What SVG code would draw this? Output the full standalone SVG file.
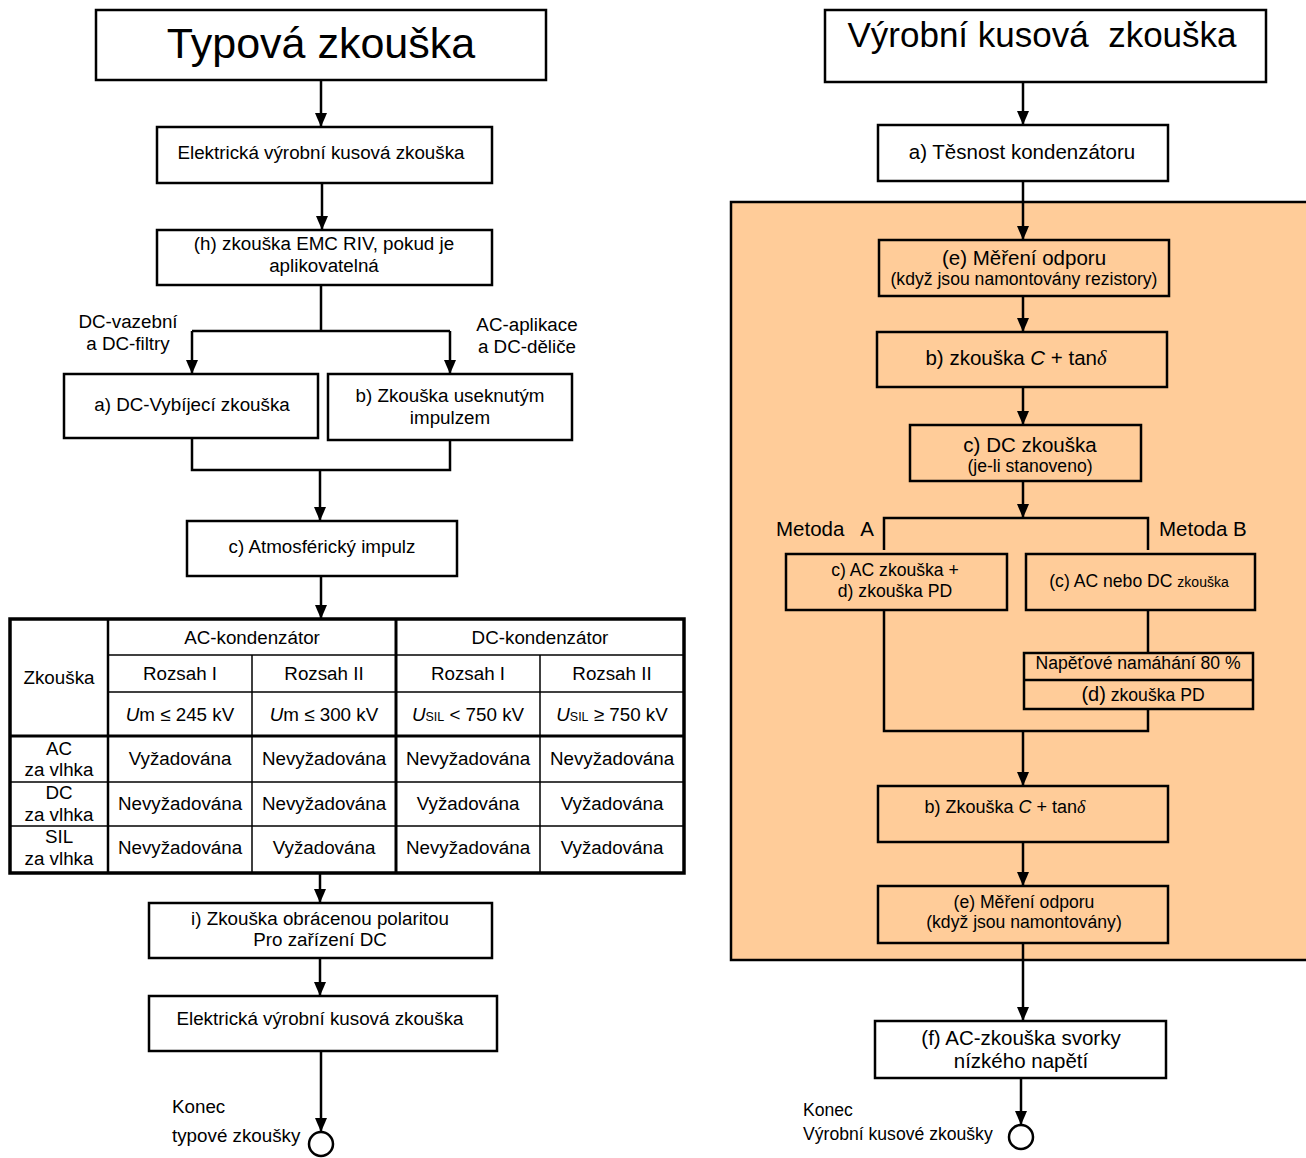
<svg xmlns="http://www.w3.org/2000/svg" width="1306" height="1158" viewBox="0 0 1306 1158">
<defs>
<style>
text{font-family:"Liberation Sans",Arial,sans-serif;fill:#000;}
.c{text-anchor:middle;}
.box{fill:#fff;stroke:#000;stroke-width:2.5;}
.obox{fill:#FFCC99;stroke:#000;stroke-width:2.5;}
.ln{fill:none;stroke:#000;stroke-width:2.5;}
.ar{fill:none;stroke:#000;stroke-width:2.5;marker-end:url(#ah);}
.f19{font-size:18.8px;}
.rb{font-size:20.5px;}
.rs{font-size:17.6px;}
.tl{stroke:#000;stroke-width:1.5;}
.tt{stroke:#000;stroke-width:3;}
.it{font-style:italic;}
.dl{font-family:"Liberation Serif","Times New Roman",serif;font-style:italic;}
</style>
<marker id="ah" viewBox="0 0 14 12" markerWidth="14" markerHeight="12" refX="14" refY="6" orient="auto" markerUnits="userSpaceOnUse">
<path d="M0,0 L14,6 L0,12 Z" fill="#000"/>
</marker>
</defs>
<rect width="1306" height="1158" fill="#fff"/>

<!-- orange panel -->
<rect id="panel" x="731" y="202" width="580" height="758" class="obox"/>

<!-- LEFT -->
<g id="typ-title"><rect x="96" y="10" width="450" height="70" class="box"/><text x="321" y="58" class="c" font-size="43">Typová zkouška</text></g>
<g id="l-ele1"><rect x="157" y="127" width="335" height="56" class="box"/><text x="321" y="159" class="c f19">Elektrická výrobní kusová zkouška</text></g>
<g id="l-emc"><rect x="157" y="230" width="335" height="55" class="box"/><text x="324" y="250" class="c f19">(h) zkouška EMC RIV, pokud je</text><text x="324" y="272" class="c f19">aplikovatelná</text></g>
<g id="l-dcv"><rect x="64" y="374" width="254" height="64" class="box"/><text x="192" y="411" class="c f19">a) DC-Vybíjecí zkouška</text></g>
<g id="l-use"><rect x="328" y="374" width="244" height="66" class="box"/><text x="450" y="402" class="c f19">b) Zkouška useknutým</text><text x="450" y="424" class="c f19">impulzem</text></g>
<g id="l-atm"><rect x="187" y="521" width="270" height="55" class="box"/><text x="322" y="553" class="c f19">c) Atmosférický impulz</text></g>
<g id="l-labels">
<text x="128" y="328" class="c f19">DC-vazební</text><text x="128" y="350" class="c f19">a DC-filtry</text>
<text x="527" y="331" class="c f19">AC-aplikace</text><text x="527" y="353" class="c f19">a DC-děliče</text>
</g>

<!-- table -->
<g id="table">
<rect x="10" y="619" width="674" height="254" fill="#fff" stroke="#000" stroke-width="3.5"/>
<line x1="108" y1="619" x2="108" y2="873" stroke="#000" stroke-width="2.5"/>
<line x1="396" y1="619" x2="396" y2="873" class="tt"/>
<line x1="252" y1="655" x2="252" y2="873" class="tl"/>
<line x1="540" y1="655" x2="540" y2="873" class="tl"/>
<line x1="108" y1="655" x2="684" y2="655" class="tl"/>
<line x1="108" y1="692" x2="684" y2="692" class="tl"/>
<line x1="10" y1="736" x2="684" y2="736" class="tt"/>
<line x1="10" y1="782" x2="684" y2="782" class="tl"/>
<line x1="10" y1="826" x2="684" y2="826" class="tl"/>
<text x="59" y="684" class="c f19">Zkouška</text>
<text x="252" y="644" class="c f19">AC-kondenzátor</text>
<text x="540" y="644" class="c f19">DC-kondenzátor</text>
<text x="180" y="680" class="c f19">Rozsah I</text>
<text x="324" y="680" class="c f19">Rozsah II</text>
<text x="468" y="680" class="c f19">Rozsah I</text>
<text x="612" y="680" class="c f19">Rozsah II</text>
<text x="180" y="721" class="c f19"><tspan class="it">U</tspan>m ≤ 245 kV</text>
<text x="324" y="721" class="c f19"><tspan class="it">U</tspan>m ≤ 300 kV</text>
<text x="468" y="721" class="c f19"><tspan class="it">U</tspan><tspan font-size="12.5">SIL</tspan> &lt; 750 kV</text>
<text x="612" y="721" class="c f19"><tspan class="it">U</tspan><tspan font-size="12.5">SIL</tspan> ≥ 750 kV</text>
<text x="59" y="755" class="c f19">AC</text><text x="59" y="776" class="c f19">za vlhka</text>
<text x="59" y="799" class="c f19">DC</text><text x="59" y="821" class="c f19">za vlhka</text>
<text x="59" y="843" class="c f19">SIL</text><text x="59" y="865" class="c f19">za vlhka</text>
<text x="180" y="765" class="c f19">Vyžadována</text>
<text x="324" y="765" class="c f19">Nevyžadována</text>
<text x="468" y="765" class="c f19">Nevyžadována</text>
<text x="612" y="765" class="c f19">Nevyžadována</text>
<text x="180" y="810" class="c f19">Nevyžadována</text>
<text x="324" y="810" class="c f19">Nevyžadována</text>
<text x="468" y="810" class="c f19">Vyžadována</text>
<text x="612" y="810" class="c f19">Vyžadována</text>
<text x="180" y="854" class="c f19">Nevyžadována</text>
<text x="324" y="854" class="c f19">Vyžadována</text>
<text x="468" y="854" class="c f19">Nevyžadována</text>
<text x="612" y="854" class="c f19">Vyžadována</text>
</g>

<g id="l-obr"><rect x="149" y="903" width="343" height="55" class="box"/><text x="320" y="925" class="c f19">i) Zkouška obrácenou polaritou</text><text x="320" y="946" class="c f19">Pro zařízení DC</text></g>
<g id="l-ele2"><rect x="149" y="996" width="348" height="55" class="box"/><text x="320" y="1025" class="c f19">Elektrická výrobní kusová zkouška</text></g>
<g id="l-end"><circle cx="321" cy="1144" r="12" fill="#fff" stroke="#000" stroke-width="2.5"/><text x="172" y="1113" class="f19">Konec</text><text x="172" y="1142" class="f19">typové zkoušky</text></g>

<!-- RIGHT -->
<g id="vk-title"><rect x="825" y="10" width="441" height="72" class="box"/><text x="1042" y="47" class="c" font-size="35" xml:space="preserve">Výrobní kusová  zkouška</text></g>
<g id="r-tes"><rect x="878" y="125" width="290" height="56" class="box"/><text x="1022" y="159" class="c rb">a) Těsnost kondenzátoru</text></g>
<g id="r-e1"><rect x="879" y="240" width="290" height="56" class="obox"/><text x="1024" y="265" class="c rb">(e) Měření odporu</text><text x="1024" y="285" class="c rs">(když jsou namontovány rezistory)</text></g>
<g id="r-b1"><rect x="877" y="332" width="290" height="55" class="obox"/><text x="1016" y="365" class="c rb">b) zkouška <tspan class="it">C</tspan> + tan<tspan class="dl">δ</tspan></text></g>
<g id="r-c"><rect x="910" y="425" width="231" height="56" class="obox"/><text x="1030" y="452" class="c rb">c) DC zkouška</text><text x="1030" y="472" class="c rs">(je-li stanoveno)</text></g>
<g id="r-meth"><text x="776" y="536" class="rb" xml:space="preserve">Metoda   A</text><text x="1159" y="536" class="rb">Metoda B</text></g>
<g id="r-acA"><rect x="786" y="554" width="221" height="56" class="obox"/><text x="895" y="576" class="c rs">c) AC zkouška +</text><text x="895" y="597" class="c rs">d) zkouška PD</text></g>
<g id="r-acB"><rect x="1026" y="554" width="229" height="56" class="obox"/><text x="1139" y="587" class="c rs">(c) AC nebo DC <tspan font-size="14">zkouška</tspan></text></g>
<g id="r-pd"><rect x="1024" y="653" width="229" height="56" class="obox"/><line x1="1024" y1="680" x2="1253" y2="680" class="ln"/><text x="1138" y="669" class="c rs">Napěťové namáhání 80 %</text><text x="1143" y="701" class="c rs"><tspan font-size="20">(d)</tspan> zkouška PD</text></g>
<g id="r-b2"><rect x="878" y="786" width="290" height="56" class="obox"/><text x="1005" y="813" class="c" font-size="18">b) Zkouška <tspan class="it">C</tspan> + tan<tspan class="dl">δ</tspan></text></g>
<g id="r-e2"><rect x="878" y="886" width="290" height="57" class="obox"/><text x="1024" y="908" class="c rs">(e) Měření odporu</text><text x="1024" y="928" class="c rs">(když jsou namontovány)</text></g>
<g id="r-f"><rect x="875" y="1021" width="291" height="57" class="box"/><text x="1021" y="1045" class="c rb">(f) AC-zkouška svorky</text><text x="1021" y="1068" class="c rb">nízkého napětí</text></g>
<g id="r-end"><circle cx="1021" cy="1137" r="12" fill="#fff" stroke="#000" stroke-width="2.5"/><text x="803" y="1116" class="rs">Konec</text><text x="803" y="1140" class="rs">Výrobní kusové zkoušky</text></g>

<!-- connectors -->
<g id="connectors">
<line x1="321" y1="80" x2="321" y2="127" class="ar"/>
<line x1="322" y1="183" x2="322" y2="230" class="ar"/>
<polyline points="321,285 321,331" class="ln"/>
<polyline points="192,331 450,331" class="ln"/>
<line x1="192" y1="331" x2="192" y2="374" class="ar"/>
<line x1="450" y1="331" x2="450" y2="374" class="ar"/>
<polyline points="192,438 192,470 450,470 450,440" class="ln"/>
<line x1="320" y1="470" x2="320" y2="521" class="ar"/>
<line x1="321" y1="576" x2="321" y2="619" class="ar"/>
<line x1="320" y1="873" x2="320" y2="903" class="ar"/>
<line x1="320" y1="958" x2="320" y2="996" class="ar"/>
<line x1="321" y1="1051" x2="321" y2="1132" class="ar"/>

<line x1="1023" y1="82" x2="1023" y2="125" class="ar"/>
<line x1="1023" y1="181" x2="1023" y2="240" class="ar"/>
<line x1="1023" y1="296" x2="1023" y2="332" class="ar"/>
<line x1="1023" y1="387" x2="1023" y2="425" class="ar"/>
<line x1="1023" y1="481" x2="1023" y2="518" class="ar"/>
<polyline points="884,550 884,518 1148,518 1148,550" class="ln"/>
<polyline points="884,610 884,731 1148,731 1148,709" class="ln"/>
<line x1="1148" y1="610" x2="1148" y2="653" class="ln"/>
<line x1="1023" y1="731" x2="1023" y2="786" class="ar"/>
<line x1="1023" y1="842" x2="1023" y2="886" class="ar"/>
<line x1="1023" y1="943" x2="1023" y2="1021" class="ar"/>
<line x1="1021" y1="1078" x2="1021" y2="1125" class="ar"/>
</g>
</svg>
